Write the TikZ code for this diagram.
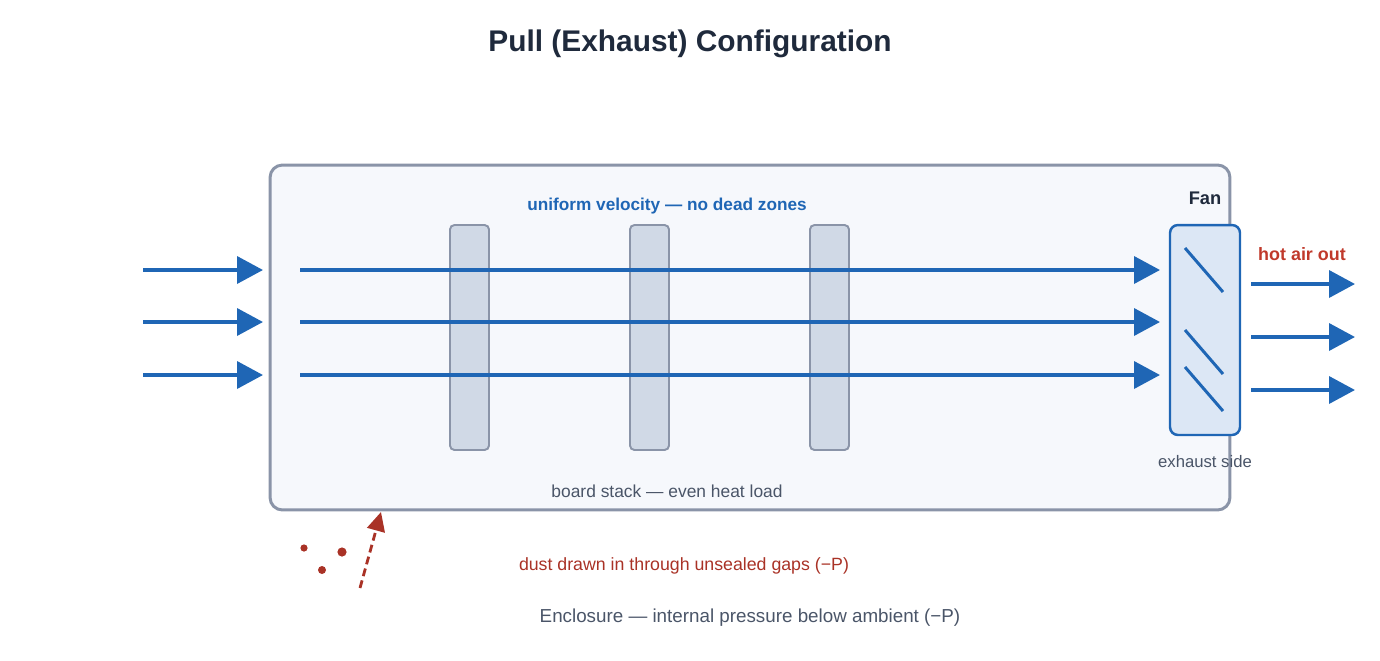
\documentclass[tikz,border=0pt]{standalone}
\usepackage{fontspec}
\setmainfont{Liberation Sans}
\usetikzlibrary{arrows.meta}
\definecolor{inkdark}{HTML}{1F2A3C}
\definecolor{inkgray}{HTML}{4A5568}
\definecolor{wallgray}{HTML}{8A94A8}
\definecolor{boxfill}{HTML}{F6F8FC}
\definecolor{boardfill}{HTML}{D0D9E6}
\definecolor{fanfill}{HTML}{DCE7F5}
\definecolor{flowblue}{HTML}{1F66B5}
\definecolor{dustred}{HTML}{A93226}
\definecolor{hotred}{HTML}{C0392B}

\begin{document}
\begin{tikzpicture}[x=0.02cm,y=-0.02cm,
  flow/.style={flowblue,line width=2.1pt,-{Triangle[length=0.52cm,width=0.54cm]}},
  board/.style={draw=wallgray,fill=boardfill,line width=1.1pt,rounded corners=2.5pt,minimum width=0.78cm,minimum height=4.5cm,inner sep=0pt},
  lbl/.style={font=\fontsize{9.9}{12}\selectfont,text=inkgray,inner sep=0pt}]
  \useasboundingbox (0,0) rectangle (1380,660);
  % Title
  \node[font=\fontsize{17}{20}\selectfont\bfseries,text=inkdark] (title) at (690,44) {Pull (Exhaust) Configuration};
  % Enclosure
  \node[draw=wallgray,fill=boxfill,line width=1.7pt,rounded corners=7pt,minimum width=19.2cm,minimum height=6.9cm,inner sep=0pt] (box) at (750,337.5) {};
  \node[font=\fontsize{9.8}{12}\selectfont\bfseries,text=flowblue] (velo) at (667,206) {uniform velocity — no dead zones};
  \node[lbl] (stack) at (667,491) {board stack — even heat load};
  % Boards
  \node[board] (b1) at (469.5,337.5) {};
  \node[board] (b2) at (649.5,337.5) {};
  \node[board] (b3) at (829.5,337.5) {};
  % Fan
  \node[draw=flowblue,fill=fanfill,line width=1.4pt,rounded corners=4.5pt,minimum width=1.4cm,minimum height=4.2cm,inner sep=0pt] (fan) at (1205,330) {};
  \draw[flowblue,line width=1.7pt] (1185,248) -- (1223,292) (1185,330) -- (1223,374) (1185,367) -- (1223,411);
  \node[font=\fontsize{10.4}{12}\selectfont\bfseries,text=inkdark] (fanlbl) at (1205,198) {Fan};
  \node[font=\fontsize{9.5}{11}\selectfont,text=inkgray] (exh) at (1205,462) {exhaust side};
  \node[font=\fontsize{10.2}{12}\selectfont\bfseries,text=hotred] (hot) at (1302,254) {hot air out};
  % Air flow
  \foreach \y/\n in {270/1,322/2,375/3} {
    \coordinate (src\n) at (143,\y);
    \coordinate (wall\n) at (263,\y);
    \coordinate (start\n) at (300,\y);
    \coordinate (stop\n) at (1160,\y);
    \draw[flow] (src\n) -- (wall\n);
    \draw[flow] (start\n) -- (stop\n);
  }
  \foreach \y/\n in {284/1,337/2,390/3} {
    \coordinate (out\n) at (1251,\y);
    \coordinate (far\n) at (1355,\y);
    \draw[flow] (out\n) -- (far\n);
  }
  % Dust leak
  \fill[dustred] (304,548) circle (3.6) (342,552) circle (4.6) (322,570) circle (4);
  \coordinate (gap) at (360,588);
  \coordinate (seam) at (381,512);
  \draw[dustred,line width=1.6pt,dash pattern=on 4.5pt off 2.5pt,-{Triangle[length=0.38cm,width=0.36cm]}] (gap) -- (seam);
  \node[font=\fontsize{10.1}{12}\selectfont,text=dustred] (dust) at (684,566) {dust drawn in through unsealed gaps (−P)};
  \node[font=\fontsize{10.7}{13}\selectfont,text=inkgray] (encl) at (750,618) {Enclosure — internal pressure below ambient (−P)};
\end{tikzpicture}
\end{document}
